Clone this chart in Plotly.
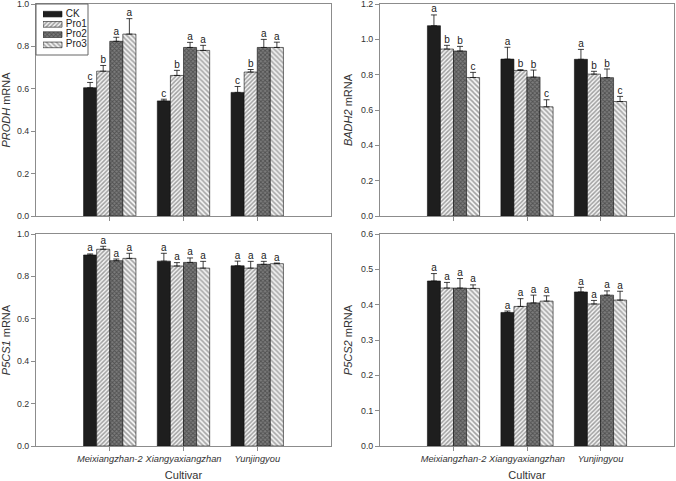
import plotly.graph_objects as go

cultivars = ["Meixiangzhan-2", "Xiangyaxiangzhan", "Yunjingyou"]
treatments = ["CK", "Pro1", "Pro2", "Pro3"]

# values per treatment (3 cultivars each), and top of error bar
prodh_val = {"CK": [0.605, 0.543, 0.583], "Pro1": [0.683, 0.663, 0.679],
             "Pro2": [0.824, 0.795, 0.795], "Pro3": [0.858, 0.781, 0.795]}
prodh_top = {"CK": [0.630, 0.551, 0.611], "Pro1": [0.710, 0.687, 0.691],
             "Pro2": [0.843, 0.819, 0.833], "Pro3": [0.931, 0.805, 0.820]}
prodh_let = {"CK": ["c", "c", "c"], "Pro1": ["b", "b", "b"],
             "Pro2": ["a", "a", "a"], "Pro3": ["a", "a", "a"]}

badh2_val = {"CK": [1.077, 0.888, 0.887], "Pro1": [0.945, 0.824, 0.803],
             "Pro2": [0.934, 0.786, 0.783], "Pro3": [0.784, 0.618, 0.648]}
badh2_top = {"CK": [1.138, 0.955, 0.943], "Pro1": [0.966, 0.828, 0.819],
             "Pro2": [0.960, 0.826, 0.832], "Pro3": [0.813, 0.658, 0.677]}
badh2_let = {"CK": ["a", "a", "a"], "Pro1": ["b", "b", "b"],
             "Pro2": ["b", "b", "b"], "Pro3": ["c", "c", "c"]}

p5cs1_val = {"CK": [0.901, 0.872, 0.850], "Pro1": [0.928, 0.849, 0.839],
             "Pro2": [0.874, 0.866, 0.857], "Pro3": [0.885, 0.839, 0.860]}
p5cs1_top = {"CK": [0.906, 0.909, 0.872], "Pro1": [0.942, 0.865, 0.871],
             "Pro2": [0.882, 0.887, 0.871], "Pro3": [0.909, 0.871, 0.863]}
p5cs1_let = {t: ["a", "a", "a"] for t in treatments}

p5cs2_val = {"CK": [0.467, 0.378, 0.436], "Pro1": [0.447, 0.395, 0.402],
             "Pro2": [0.447, 0.405, 0.427], "Pro3": [0.446, 0.410, 0.413]}
p5cs2_top = {"CK": [0.488, 0.382, 0.449], "Pro1": [0.463, 0.417, 0.412],
             "Pro2": [0.474, 0.427, 0.439], "Pro3": [0.456, 0.425, 0.438]}
p5cs2_let = {t: ["a", "a", "a"] for t in treatments}

panels = [
    ("x", "y", "<i>PRODH</i> mRNA", prodh_val, prodh_top, prodh_let),
    ("x2", "y2", "<i>BADH2</i> mRNA", badh2_val, badh2_top, badh2_let),
    ("x3", "y3", "<i>P5CS1</i> mRNA", p5cs1_val, p5cs1_top, p5cs1_let),
    ("x4", "y4", "<i>P5CS2</i> mRNA", p5cs2_val, p5cs2_top, p5cs2_let),
]

styles = {
    "CK": dict(color="#1e1e1e"),
    "Pro1": dict(color="#ffffff", pattern=dict(shape="/", fgcolor="#4a4a4a", bgcolor="#f4f4f4", size=3, solidity=0.5)),
    "Pro2": dict(color="#707070", pattern=dict(shape="x", fgcolor="#262626", bgcolor="#7c7c7c", size=3, solidity=0.5)),
    "Pro3": dict(color="#ffffff", pattern=dict(shape="\\", fgcolor="#555555", bgcolor="#f4f4f4", size=3.5, solidity=0.45)),
}

FONT = "Liberation Sans, Arial"
xpos = [1, 2, 3]
bargap = 0.29
w = (1 - bargap) / 4
offs = [(-1.5 + i) * w for i in range(4)]


def bar_marker(t):
    st = styles[t]
    m = dict(color=st["color"], line=dict(color="#111111", width=0.6))
    if "pattern" in st:
        m["pattern"] = st["pattern"]
    return m


fig = go.Figure()
for pi, (xa, ya, ytitle, vals, tops, lets) in enumerate(panels):
    for ti, t in enumerate(treatments):
        fig.add_trace(go.Bar(
            x=xpos, y=vals[t], name=t, xaxis=xa, yaxis=ya,
            marker=bar_marker(t), showlegend=False, offsetgroup=t,
            error_y=dict(type="data", symmetric=False,
                         array=[tp - v for tp, v in zip(tops[t], vals[t])],
                         arrayminus=[0, 0, 0], color="#111111", thickness=0.8, width=3),
        ))
    for ti, t in enumerate(treatments):
        fig.add_trace(go.Scatter(
            x=[x + offs[ti] for x in xpos], y=tops[t], text=lets[t], mode="text",
            textposition="top center", textfont=dict(size=10, color="#222222", family=FONT),
            xaxis=xa, yaxis=ya, showlegend=False, hoverinfo="skip", cliponaxis=False,
        ))

# compact legend drawn as an inset axis (keys + labels)
for ti, t in enumerate(treatments):
    fig.add_trace(go.Bar(
        x=[1], y=[ti], orientation="h", base=0, width=0.55, offset=-0.275,
        marker=bar_marker(t), xaxis="x5", yaxis="y5", showlegend=False, hoverinfo="skip",
    ))
fig.add_trace(go.Scatter(
    x=[1.2] * 4, y=list(range(4)), text=treatments, mode="text",
    textposition="middle right", textfont=dict(size=10, color="#222222", family=FONT),
    xaxis="x5", yaxis="y5", showlegend=False, hoverinfo="skip", cliponaxis=False,
))

W, H = 676, 481
xd_left = [36 / W, 331 / W]
xd_right = [380 / W, 674 / W]
yd_top = [1 - 216 / H, 1 - 4 / H]
yd_bot = [1 - 446 / H, 1 - 234 / H]

axcol = "#8c8c8c"
tickfont = dict(size=8.8, color="#333333", family=FONT)
titlefont = dict(size=11, color="#333333", family=FONT)


def xaxis(domain, anchor, bottom):
    d = dict(domain=domain, anchor=anchor, range=[0, 4], tickmode="array",
             tickvals=xpos, showline=True, linecolor=axcol, linewidth=1, mirror=True,
             ticks="outside", ticklen=4, tickcolor=axcol, showgrid=False, zeroline=False,
             tickangle=0, automargin=False, ticklabeloverflow="allow",
             tickfont=dict(size=9.3, color="#333333", family=FONT))
    if bottom:
        d["ticktext"] = ["<i>%s</i>" % c for c in cultivars]
        d["title"] = dict(text="Cultivar", font=titlefont, standoff=8)
    else:
        d["ticktext"] = ["", "", ""]
    return d


def yaxis(domain, anchor, title, ymax, dt):
    return dict(domain=domain, anchor=anchor, range=[0, ymax], dtick=dt, tick0=0,
                tickformat=".1f", showline=True, linecolor=axcol, linewidth=1, mirror=True,
                ticks="outside", ticklen=4, tickcolor=axcol, showgrid=False, zeroline=False,
                tickfont=tickfont, automargin=False, ticklabeloverflow="allow",
                title=dict(text=title, font=titlefont, standoff=6))


fig.update_layout(
    width=W, height=H, margin=dict(l=0, r=0, t=0, b=0, autoexpand=False),
    paper_bgcolor="white", plot_bgcolor="white",
    barmode="group", bargap=bargap, bargroupgap=0,
    font=dict(family=FONT, size=10, color="#333333"),
    xaxis=xaxis(xd_left, "y", False),
    yaxis=yaxis(yd_top, "x", panels[0][2], 1.0, 0.2),
    xaxis2=xaxis(xd_right, "y2", False),
    yaxis2=yaxis(yd_top, "x2", panels[1][2], 1.2, 0.2),
    xaxis3=xaxis(xd_left, "y3", True),
    yaxis3=yaxis(yd_bot, "x3", panels[2][2], 1.0, 0.2),
    xaxis4=xaxis(xd_right, "y4", True),
    yaxis4=yaxis(yd_bot, "x4", panels[3][2], 0.6, 0.1),
    xaxis5=dict(domain=[43 / W, 100 / W], anchor="y5", range=[0, 3], visible=False,
                fixedrange=True),
    yaxis5=dict(domain=[1 - 50 / H, 1 - 9 / H], anchor="x5", range=[3.5, -0.5],
                visible=False, fixedrange=True),
    showlegend=False,
    shapes=[dict(type="rect", xref="paper", yref="paper",
                 x0=36 / W, x1=88 / W, y0=1 - 55 / H, y1=1 - 4 / H,
                 line=dict(color="#666666", width=1), fillcolor="rgba(0,0,0,0)",
                 layer="above")],
)

fig.write_html("out.html", config={"displayModeBar": False},
               post_script="document.body.style.margin='0';document.body.style.overflow='hidden';")
